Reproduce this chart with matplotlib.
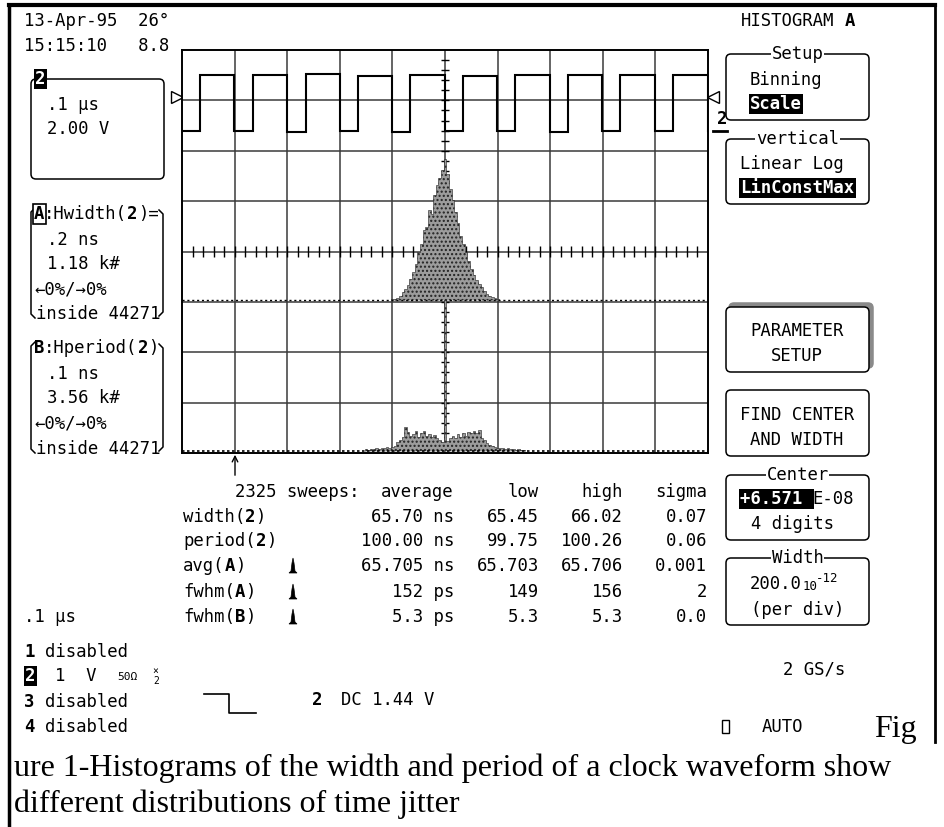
import matplotlib

matplotlib.use("Agg")

import matplotlib.pyplot as plt
import numpy as np
from matplotlib.patches import FancyBboxPatch, Polygon, Rectangle

# ---- values ----
# channel 2 trace, 0.1 us/div, 2 V/div (edges in ns from left of screen)
rise_ns = [34, 135, 235, 335, 434, 534, 634, 734, 833, 933]
fall_ns = [99, 200, 300, 399, 500, 599, 700, 799, 899, 1000]
high_v = [1.02, 1.00, 1.04, 0.98, 1.02, 0.98, 1.00, 1.02, 1.00, 1.02]
low_v = [-1.22, -1.20, -1.24, -1.20, -1.26, -1.22, -1.20, -1.24, -1.20, -1.22]

# histogram A: Hwidth(2), 10 ps bins, offset from centre 65.71 ns, 1.18 k#/div
hist_a_ps = list(range(-200, 201, 10))
hist_a_counts = [12, 24, 47, 94, 177, 260, 354, 496, 649, 850, 1121, 1298, 1628,
                 1711, 2100, 2000, 2450, 2700, 2850, 3050, 3304, 2950, 2600, 2350,
                 2050, 1800, 1500, 1300, 1121, 920, 732, 590, 472, 366, 295, 201,
                 142, 83, 59, 35, 12]
# histogram B: Hperiod(2), 5 ps bins, offset from 100.00 ns, 3.56 k#/div
hist_b_ps = list(range(-150, 151, 5))
hist_b_counts = [107, 71, 142, 107, 178, 142, 214, 178, 249, 214, 285, 356, 641,
                 783, 997, 1709, 1353, 1068, 1175, 1424, 997, 1282, 1424, 1068,
                 1210, 997, 1139, 890, 783, 641, 10680, 712, 890, 1068, 926, 1175,
                 997, 1282, 1068, 1353, 1246, 1424, 1282, 1495, 926, 783, 570,
                 427, 320, 249, 214, 178, 214, 142, 178, 107, 142, 71, 107, 71, 71]
a_per_div = 1180
b_per_div = 3560

# parameter table
header = ["2325 sweeps:", "average", "low", "high", "sigma"]
row_names = [("width(", "2"), ("period(", "2"), ("avg(", "A"), ("fwhm(", "A"), ("fwhm(", "B")]
row_icon = [False, False, True, True, True]
avg_col = ["65.70 ns", "100.00 ns", "65.705 ns", "152 ps", "5.3 ps"]
low_col = ["65.45", "99.75", "65.703", "149", "5.3"]
high_col = ["66.02", "100.26", "65.706", "156", "5.3"]
sigma_col = ["0.07", "0.06", "0.001", "2", "0.0"]

MONO = ["DejaVu Sans Mono", "DejaVu Sans"]
SERIF = ["Liberation Serif", "DejaVu Serif"]
FS = 12.4
CW = 0.602 * FS * 100 / 72  # monospace advance in px
CAP_FS = 23

fig = plt.figure(figsize=(9.45, 8.27), dpi=100)
bg = fig.add_axes([0, 0, 1, 1])
bg.set_xlim(0, 945)
bg.set_ylim(827, 0)
bg.axis("off")


def put(x, y, s, size=FS, bold=False, inv=False, ha="left", family=MONO, outline=False):
    kw = {}
    color = "black"
    if inv:
        kw["bbox"] = dict(boxstyle="square,pad=0.08", fc="black", ec="none")
        color = "white"
    if outline:
        kw["bbox"] = dict(boxstyle="square,pad=0.08", fc="white", ec="black", lw=1.2)
    bg.text(x, y, s, fontsize=size, family=family, weight="bold" if bold else "normal",
            ha=ha, va="center", color=color, **kw)


def rbox(x0, y0, x1, y1, lw=1.1, fc="white", ec="black"):
    bg.add_patch(FancyBboxPatch((x0, y0), x1 - x0, y1 - y0,
                                boxstyle="round,pad=0,rounding_size=5",
                                fc=fc, ec=ec, lw=lw, zorder=1))


def titled(x0, y0, x1, y1, title):
    rbox(x0, y0, x1, y1)
    bg.text((x0 + x1) / 2, y0, title, fontsize=FS, family=MONO, ha="center", va="center",
            bbox=dict(boxstyle="square,pad=0.05", fc="white", ec="none"), zorder=3)


def bracket(x_left, x_right, y0, y1):
    bg.plot([x_left + 4, x_left, x_left, x_left + 4], [y0, y0 + 4, y1 - 4, y1],
            color="black", lw=1.1)
    bg.plot([x_right - 4, x_right, x_right, x_right - 4], [y0 + 2, y0 + 6, y1 - 6, y1 - 2],
            color="black", lw=1.1)


def icon(x, y):
    pts = [(-4, 7), (-2, 5), (-1, -3), (0, -8), (1, -3), (2, 5), (4, 7)]
    bg.add_patch(Polygon([(x + a, y + b) for a, b in pts], closed=True, fc="black", ec="black", lw=0.5))


# ---- frame of the document ----
bg.plot([9, 935], [5, 5], color="black", lw=3)
bg.plot([9, 9], [5, 827], color="black", lw=2.5)
bg.plot([935, 935], [5, 742], color="black", lw=2)

# ---- graticule ----
gx0, gx1, gy0, gy1 = 182, 708, 50, 453
pos = [gx0 / 945, 1 - gy1 / 827, (gx1 - gx0) / 945, (gy1 - gy0) / 827]
grid = fig.add_axes(pos)
grid.set_xlim(0, 10)
grid.set_ylim(0, 8)
grid.vlines(np.arange(1, 10), 0, 8, color="#3a3a3a", lw=1.1)
grid.hlines(np.arange(1, 8), 0, 10, color="#3a3a3a", lw=1.1)
minor = np.arange(0.2, 10, 0.2)
grid.vlines(minor, 3.9, 4.1, color="black", lw=1.0)
grid.hlines(np.arange(0.2, 8, 0.2), 4.93, 5.07, color="black", lw=1.0)
grid.set_xticks([])
grid.set_yticks([])
for sp in grid.spines.values():
    sp.set_linewidth(1.4)

trace = fig.add_axes(pos, facecolor="none")
trace.set_xlim(0, 1000)
trace.set_ylim(-14, 2)  # 2 V/div, zero at the marker line
tt, vv = [0], [low_v[0]]
for k, (r, f) in enumerate(zip(rise_ns, fall_ns)):
    nxt = low_v[min(k + 1, len(low_v) - 1)]
    tt += [r, r, f, f]
    vv += [low_v[k], high_v[k], high_v[k], nxt]
trace.plot(tt, vv, color="black", lw=1.5, solid_joinstyle="miter")
trace.axis("off")

ha_ax = fig.add_axes(pos, facecolor="none")
ha_ax.set_xlim(-1000, 1000)  # 200 ps/div
ha_ax.set_ylim(-3.04 * a_per_div, 4.96 * a_per_div)
edges_a = np.append(np.array(hist_a_ps) - 5, hist_a_ps[-1] + 5)
ha_ax.stairs(hist_a_counts, edges_a, fill=True, fc="#9c9c9c", ec="#222222",
             hatch="....", lw=0.4)
ha_ax.hlines(0, -1000, 1000, color="black", lw=1.0, linestyles=(0, (1.5, 2)))
ha_ax.axis("off")

hb_ax = fig.add_axes(pos, facecolor="none")
hb_ax.set_xlim(-500, 500)  # 100 ps/div
hb_ax.set_ylim(-0.04 * b_per_div, 7.96 * b_per_div)
edges_b = np.append(np.array(hist_b_ps) - 2.5, hist_b_ps[-1] + 2.5)
hb_ax.stairs(hist_b_counts, edges_b, fill=True, fc="#9c9c9c", ec="#222222",
             hatch="....", lw=0.4)
hb_ax.hlines(0, -500, 500, color="black", lw=1.2, linestyles=(0, (1.5, 1.5)))
hb_ax.axis("off")

# trace markers
bg.plot(177, 97, marker=">", ms=8, mfc="white", mec="black", mew=1)
bg.plot(713, 97, marker="<", ms=8, mfc="white", mec="black", mew=1)
put(717, 119, "2", bold=True)
bg.plot([713, 727], [131, 131], color="black", lw=2)
bg.annotate("", xy=(235, 452), xytext=(235, 478),
            arrowprops=dict(arrowstyle="->", color="black", lw=1))

# ---- top left ----
put(24, 21, "13-Apr-95  26°")
put(24, 46, "15:15:10   8.8")
rbox(31, 79, 164, 179)
put(35, 79, "2", bold=True, inv=True)
put(47, 105, ".1 µs")
put(47, 129, "2.00 V")

# histogram A descriptor
bracket(31, 163, 208, 318)
put(34, 214, "A", bold=True, outline=True)
put(34 + CW, 214, ":Hwidth(")
put(34 + 9 * CW, 214, "2", bold=True)
put(34 + 10 * CW, 214, ")=")
put(47, 240, ".2 ns")
put(47, 264, "1.18 k#")
put(34, 289, "←0%/→0%")
put(36, 314, "inside 44271")

# histogram B descriptor
bracket(31, 163, 342, 453)
put(34, 348, "B", bold=True)
put(34 + CW, 348, ":Hperiod(")
put(34 + 10 * CW, 348, "2", bold=True)
put(34 + 11 * CW, 348, ")")
put(47, 374, ".1 ns")
put(47, 398, "3.56 k#")
put(34, 423, "←0%/→0%")
put(36, 449, "inside 44271")

# ---- parameter table ----
row_y = [517, 541, 566, 592, 617]
put(235, 492, header[0])
put(454, 492, header[1], ha="right")
put(539, 492, header[2], ha="right")
put(623, 492, header[3], ha="right")
put(707, 492, header[4], ha="right")
for y, (name, ch), ic, a, lo, hi, sg in zip(row_y, row_names, row_icon,
                                             avg_col, low_col, high_col, sigma_col):
    put(183, y, name)
    put(183 + len(name) * CW, y, ch, bold=True)
    put(183 + (len(name) + 1) * CW, y, ")")
    if ic:
        icon(293, y)
    put(454, y, a, ha="right")
    put(539, y, lo, ha="right")
    put(623, y, hi, ha="right")
    put(707, y, sg, ha="right")

# ---- bottom left ----
put(24, 617, ".1 µs")
put(24, 652, "1", bold=True)
put(45, 652, "disabled")
put(25, 676, "2", bold=True, inv=True)
put(55, 676, "1  V")
put(117, 677, "50Ω", size=8)
put(152, 671, "×", size=7)
put(153, 681, "2", size=7)
put(24, 702, "3", bold=True)
put(45, 702, "disabled")
put(24, 727, "4", bold=True)
put(45, 727, "disabled")
bg.plot([204, 229, 229, 256], [694, 694, 713, 713], color="black", lw=1.2)
put(312, 700, "2", bold=True)
put(341, 700, "DC 1.44 V")
put(783, 669, "2 GS/s")
bg.add_patch(Rectangle((722, 720), 7, 13, fc="white", ec="black", lw=1))
put(762, 727, "AUTO")

# ---- right menu ----
put(741, 21, "HISTOGRAM")
put(741 + 10 * CW, 21, "A", bold=True)
titled(726, 54, 869, 120, "Setup")
put(750, 80, "Binning")
put(750, 104, "Scale", bold=True, inv=True)
titled(726, 139, 869, 204, "vertical")
put(740, 164, "Linear Log")
put(740, 188, "LinConstMax", bold=True, inv=True)

rbox(729, 303, 873, 368, fc="#8a8a8a", ec="#8a8a8a")
rbox(726, 307, 869, 372)
put(797, 331, "PARAMETER", ha="center")
put(797, 356, "SETUP", ha="center")

rbox(726, 390, 869, 456)
put(797, 415, "FIND CENTER", ha="center")
put(797, 440, "AND WIDTH", ha="center")

titled(726, 475, 869, 540, "Center")
put(740, 499, "+6.571 ", bold=True, inv=True)
put(740 + 7 * CW, 499, "E-08")
put(751, 524, "4 digits")

titled(726, 558, 869, 625, "Width")
put(750, 584, "200.0")
put(750 + 5 * CW + 1, 587, "10", size=9)
put(750 + 5 * CW + 14, 578, "-12", size=9)
put(751, 610, "(per div)")

# ---- caption (document text) ----
bg.text(874, 730, "Fig", fontsize=CAP_FS, family=SERIF, ha="left", va="center")
bg.text(14, 768, "ure 1-Histograms of the width and period of a clock waveform show",
        fontsize=CAP_FS, family=SERIF, ha="left", va="center")
bg.text(14, 804, "different distributions of time jitter",
        fontsize=CAP_FS, family=SERIF, ha="left", va="center")

fig.savefig("out.png", dpi=100)
plt.close(fig)
